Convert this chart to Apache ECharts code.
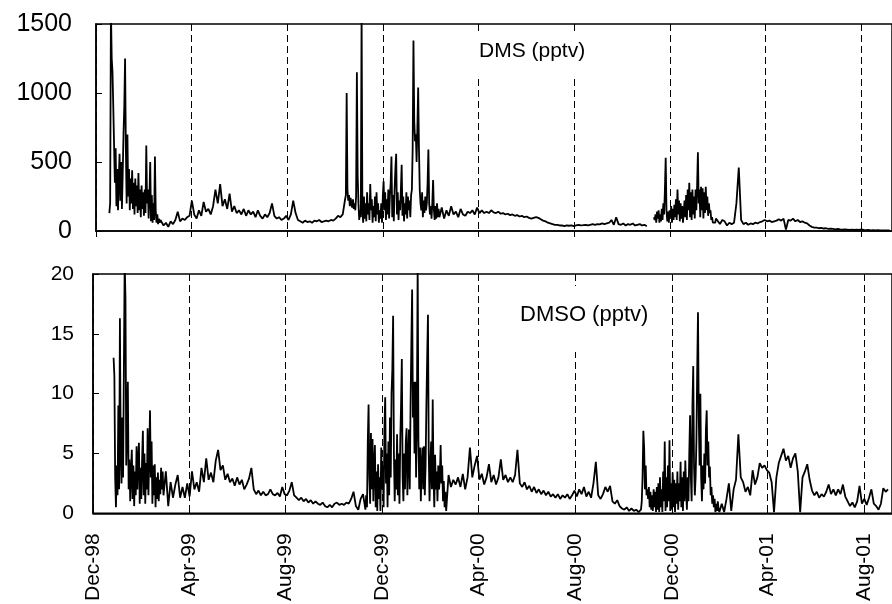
<!DOCTYPE html>
<html>
<head>
<meta charset="utf-8">
<script src="https://cdn.jsdelivr.net/npm/echarts/dist/echarts.min.js"></script>
<style>
html,body{margin:0;padding:0;background:#fff;}
#chart{width:892px;height:604px;}
</style>
</head>
<body>
<div id="chart"></div>
<script>
// ---- x tick positions / labels ----
const tickDates = ['1998-12-01','1999-04-01','1999-08-01','1999-12-01','2000-04-01','2000-08-01','2000-12-01','2001-04-01','2001-08-01'];
const tickLabels = ['Dec-98','Apr-99','Aug-99','Dec-99','Apr-00','Aug-00','Dec-00','Apr-01','Aug-01'];
const dmsTicks = [0, 500, 1000, 1500];
const dmsoTicks = [0, 5, 10, 15, 20];

// ================= DMS (pptv) =================
// daily readings from 1998-12-18
const dmsA = [
  130,200,1600,1250,1150,900,620,350,600,180,450,150,380,560,220,500,160,420,700,900,
  1250,600,200,700,250,450,150,380,200,440,160,350,120,380,180,330,130,420,150,300,
  100,330,160,280,110,300,130,620,200,300,90,250,500,70,260,60,200,80,540,150,
  60,120,50,90,60,80
];
// 3-day readings from 1999-02-22
const dmsB = [
  90,40,60,30,70,50,80,140,70,90,80,100,110,
  220,120,90,150,110,210,140,160,120,180,300,200,340,180,230,160,
  270,140,180,130,150,120,160,110,150,120,140,100,150,110,90,120,100,130,
  200,110,90,100,80,90,110,80,120,220,130,80,
  70,60,75,65,70,60,75,70,80,65,70,75,70,80,75,90,110,100,120
];
// daily readings from 1999-10-14
const dmsC = [
  230,260,1000,300,220,260,180,240,200,170,230,160,200,150,250,1150,400,200,80,150,
  100,1600,150,60,250,90,200,70,280,120,200,80,340,150,230,60,180,100,250,70,
  280,120,200,60,150,90,200,60,250,360,150,280,80,230,120,300,90,250,350,540,
  100,260,70,300,450,560,120,280,80,220,150,300,480,110,250,70,200,120,280,90,
  250,150,220,100,260,300,600,1380,800,650,700,500,750,1040,600,300,200,150,280,100,
  220,130,250,150,200,350,590,200,120,180,90,200,370,150,80,180,90,200,100,160
];
// 3-day readings from 2000-02-11 (null = no data)
const dmsD = [
  100,170,90,150,110,180,120,140,100,160,
  120,110,140,130,150,120,170,130,150,130,
  140,130,150,135,130,140,125,130,120,125,
  115,120,110,115,105,110,100,105,95,90,
  95,100,95,85,75,70,60,55,50,45,
  45,40,40,35,40,38,40,35,40,45,
  40,42,45,40,45,50,45,50,48,55,
  50,55,60,80,45,100,50,45,55,40,
  50,45,55,40,45,50,40,45,35,null,null
];
// daily readings from 2000-11-10
const dmsE = [
  100,80,120,60,140,90,150,60,120,70,160,80,200,120,300,530,150,70,140,60,
  150,90,180,60,160,80,190,100,230,80,300,120,220,70,200,90,180,60,140,220,
  100,260,80,300,150,350,100,280,80,300,120,250,90,300,150,330,570,200,300,100,
  320,150,310,90,280,130,320,150,250,110,200,130,150,80,100,60,70,50,60,90,
  100
];
// 3-day readings from 2001-01-30
const dmsF = [
  100,50,80,
  70,40,60,50,60,200,460,80,50,60,
  45,55,50,60,55,65,70,80,70,75,
  65,70,75,85,75,90,10,80,75,90,
  70,80,65,70,60,55,40,30,25,25,
  20,22,18,20,15,18,15,12,15,12,
  10,12,10,8,10,8,10,8,12,8,
  6,8,5,6,5,6,5,4,5,4,5
];

// ================= DMSO (pptv) =================
// daily readings from 1998-12-27
const dmsoA = [
  13.0,11.5,3.0,0.5,4.0,1.5,9.0,2.0,16.3,5.0,2.5,8.0,3.0,12.0,21,18.0,4.0,7.0,11.0,2.0,
  4.5,1.0,3.5,5.3,1.2,4.0,0.6,3.5,1.5,5.6,2.0,4.5,5.9,0.8,3.8,1.2,4.5,6.9,1.5,5.0,
  0.8,4.2,2.0,7.1,1.5,5.0,8.6,3.0,6.0,0.8,4.0,1.5,4.1,0.5,3.0,1.2,3.4,1.0,2.8,1.6,
  3.8,2.0,3.5
];
// 3-day readings from 1999-02-28
const dmsoB = [
  1.5,3.5,0.6,2.6,1.3,2.4,3.2,1.3,2.2,
  1.3,2.5,1.4,3.5,2.0,2.6,1.8,3.8,2.6,4.6,
  2.8,3.4,2.6,4.4,5.3,3.6,4.0,2.8,3.3,2.6,
  2.9,2.3,3.0,2.4,2.8,2.0,2.4,2.9,3.8,2.0,
  1.6,1.9,1.5,1.8,1.5,1.6,2.0,1.6,1.5,1.7,
  1.4,2.2,1.6,1.5,1.9,2.6,1.5,1.3,1.1,1.3,
  1.0,1.2,0.9,1.1,0.8,1.0,0.8,0.7,0.9,0.6,
  0.5,0.7,0.5,0.8,0.9,0.7,0.8,0.7,0.9,0.8,
  1.2,1.8,0.6,0.3,1.2,1.6
];
// daily readings from 1999-11-10
const dmsoC = [
  0.3,1.5,0.5,6.0,9.1,3.0,0.8,6.7,2.0,6.2,1.0,4.0,5.7,0.5,3.5,0.2,4.1,1.2,3.0,0.2,
  5.5,2.0,4.0,0.5,7.0,9.7,2.5,5.0,0.5,6.0,1.5,8.0,3.0,10.0,12.0,16.5,5.0,1.0,4.5,2.0,
  6.6,1.5,5.0,0.8,6.0,9.0,12.9,3.0,1.0,5.0,2.0,6.0,7.1,1.5,4.5,7.0,2.0,9.0,14.0,18.7,
  8.0,11.0,5.0,11.0,3.0,8.0,21,6.0,2.0,5.5,1.0,4.0,5.5,2.0,5.6,1.5,4.0,9.0,13.0,16.6,
  5.0,1.0,4.0,6.0,2.0,9.5,3.0,0.5,4.9,2.0,3.5,1.0,4.0,2.0,3.0,5.7,2.5,4.0,1.0,2.7,
  0.5,1.8
];
// 3-day readings from 2000-02-20
const dmsoD = [
  0.2,3.2,2.2,2.8,2.4,3.0,2.2,3.3,2.0,3.0,
  5.5,3.0,4.0,4.8,2.8,3.3,2.4,3.0,4.1,2.6,
  3.2,2.4,3.0,4.5,2.8,3.2,2.6,3.0,2.6,3.2,
  5.3,2.5,2.2,2.6,2.0,2.3,1.8,2.2,1.7,2.0,
  1.6,1.9,1.5,1.8,1.4,1.6,1.3,1.6,1.2,1.5,
  1.3,1.6,1.2,1.5,1.9,1.4,2.0,1.6,2.2,1.4,
  1.8,1.3,2.5,4.3,1.5,1.2,1.6,2.2,1.8,2.3,
  1.0,0.8,1.1,0.6,0.4,0.3,0.5,0.2,0.4,0.2,
  0.3,0.1
];
// daily readings from 2000-10-23
const dmsoE = [
  0.3,1.0,3.0,6.9,5.5,2.0,4.0,1.5,2.0,1.2,2.2,0.5,1.8,0.3,1.5,0.2,2.0,0.5,1.8,0.1,
  2.2,0.3,2.5,0.1,3.0,0.5,2.0,0.1,3.5,1.0,6.0,0.2,3.0,0.5,4.0,1.0,6.1,0.2,2.5,0.3,
  3.4,0.5,2.8,0.1,2.5,0.8,3.5,0.3,2.5,1.0,4.3,0.5,3.0,0.2,3.5,1.0,4.4,2.0,0.3,3.0,
  1.0,5.0,8.2,3.0,1.0,9.0,12.3,4.0,1.5,3.0,6.0,12.0,16.8,8.0,4.0,10.0,3.0,1.0,4.0,2.0,
  5.0,2.5,7.0,8.6,4.0,6.0,3.0,3.9,1.5,2.2,0.8,1.5,0.5,1.2,0.1,0.8,0.2,1.0,0.3
];
// 3-day readings from 2001-01-30
const dmsoF = [
  0.1,0.8,0.1,1.2,2.5,
  0.2,2.0,2.8,6.6,3.0,2.6,1.8,2.2,1.5,3.6,
  2.4,3.0,4.2,3.8,4.0,3.6,3.4,2.6,0.1,3.0,
  4.2,4.8,5.4,4.4,4.8,3.8,4.6,5.0,3.5,0.1,
  3.0,3.5,4.1,2.8,1.9,1.5,1.8,1.3,1.6,1.4,
  1.8,2.4,1.6,2.0,1.5,2.0,1.6,2.4,1.4,1.0,
  0.6,0.9,0.5,1.0,2.3,0.8,1.2,0.7,1.3,2.0,
  0.8,0.6,0.3,0.8,2.1,1.8,2.0
];

// ---- helpers ----
const DAY = 86400000;
function parseDate(s) { const p = s.split('-').map(Number); return Date.UTC(p[0], p[1] - 1, p[2]); }
function segment(start, step, vals) {
  const t0 = parseDate(start);
  return vals.map((v, i) => [t0 + i * step * DAY, v === null ? '-' : v]);
}
const dmsData = [].concat(
  segment('1998-12-18', 1, dmsA),
  segment('1999-02-22', 3, dmsB),
  segment('1999-10-14', 1, dmsC),
  segment('2000-02-11', 3, dmsD),
  segment('2000-11-10', 1, dmsE),
  segment('2001-01-30', 3, dmsF)
);
const dmsoData = [].concat(
  segment('1998-12-27', 1, dmsoA),
  segment('1999-02-28', 3, dmsoB),
  segment('1999-11-10', 1, dmsoC),
  segment('2000-02-20', 3, dmsoD),
  segment('2000-10-23', 1, dmsoE),
  segment('2001-01-30', 3, dmsoF)
);
const tickTimes = tickDates.map(parseDate);
function fmt(val) {
  for (let k = 0; k < tickTimes.length; k++) {
    if (Math.abs(tickTimes[k] - val) < DAY / 2) return tickLabels[k];
  }
  return '';
}

const FONT = '"Liberation Sans", Arial, Helvetica, sans-serif';
const xMin = parseDate('1998-12-01');
const xMaxTop = parseDate('2001-09-09');
const xMaxBot = parseDate('2001-09-05');
const dashed = { show: true, lineStyle: { color: '#000', width: 1, type: [7, 4] } };

const chart = echarts.init(document.getElementById('chart'), null, { renderer: 'canvas' });
chart.setOption({
  animation: false,
  backgroundColor: '#fff',
  textStyle: { fontFamily: FONT, color: '#000' },
  grid: [
    { left: 96, top: 24, right: -3, height: 207, show: true, borderColor: '#000', borderWidth: 1.5, backgroundColor: 'transparent' },
    { left: 93, top: 274, right: -3, height: 242, show: true, borderColor: '#000', borderWidth: 1.5, backgroundColor: 'transparent' }
  ],
  xAxis: [
    {
      type: 'value', gridIndex: 0, min: xMin, max: xMaxTop, scale: true,
      axisLine: { show: true, onZero: false, lineStyle: { color: '#000', width: 1.5 } },
      axisTick: { show: true, inside: false, length: 6, customValues: tickTimes, lineStyle: { color: '#000', width: 1 } },
      axisLabel: { show: false, customValues: tickTimes },
      splitLine: dashed
    },
    {
      type: 'value', gridIndex: 1, min: xMin, max: xMaxBot, scale: true,
      axisLine: { show: true, onZero: false, lineStyle: { color: '#000', width: 1.5 } },
      axisTick: { show: true, inside: true, length: 5, customValues: tickTimes, lineStyle: { color: '#000', width: 1 } },
      axisLabel: { show: true, customValues: tickTimes, rotate: 90, margin: 20, fontSize: 21, color: '#000', fontFamily: FONT, formatter: fmt },
      splitLine: dashed
    }
  ],
  yAxis: [
    {
      type: 'value', gridIndex: 0, min: dmsTicks[0], max: dmsTicks[dmsTicks.length - 1], interval: 500,
      axisLine: { show: true, lineStyle: { color: '#000', width: 1.5 } },
      axisTick: { show: true, inside: true, length: 6, lineStyle: { color: '#000' } },
      axisLabel: { fontSize: 25, margin: 24, color: '#000', fontFamily: FONT, formatter: v => String(v) },
      splitLine: { show: false }
    },
    {
      type: 'value', gridIndex: 1, min: dmsoTicks[0], max: dmsoTicks[dmsoTicks.length - 1], interval: 5,
      axisLine: { show: true, lineStyle: { color: '#000', width: 1.5 } },
      axisTick: { show: true, inside: true, length: 6, lineStyle: { color: '#000' } },
      axisLabel: { fontSize: 21, margin: 19, color: '#000', fontFamily: FONT, formatter: v => String(v) },
      splitLine: { show: false }
    }
  ],
  series: [
    {
      name: 'DMS (pptv)', type: 'line', xAxisIndex: 0, yAxisIndex: 0,
      data: dmsData,
      showSymbol: false, connectNulls: false, clip: true,
      lineStyle: { color: '#000', width: 1.8 }
    },
    {
      name: 'DMSO (pptv)', type: 'line', xAxisIndex: 1, yAxisIndex: 1,
      data: dmsoData,
      showSymbol: false, clip: true,
      lineStyle: { color: '#000', width: 1.8 }
    }
  ],
  graphic: [
    { type: 'text', left: 475, top: 33, z: 10,
      style: { text: 'DMS (pptv)', font: '21px ' + FONT, fill: '#000', backgroundColor: '#fff', padding: [8, 6, 15, 4] } },
    { type: 'text', left: 514, top: 286, z: 10,
      style: { text: 'DMSO (pptv)', font: '22px ' + FONT, fill: '#000', backgroundColor: '#fff', padding: [18, 6, 26, 6] } }
  ]
});
</script>
</body>
</html>
